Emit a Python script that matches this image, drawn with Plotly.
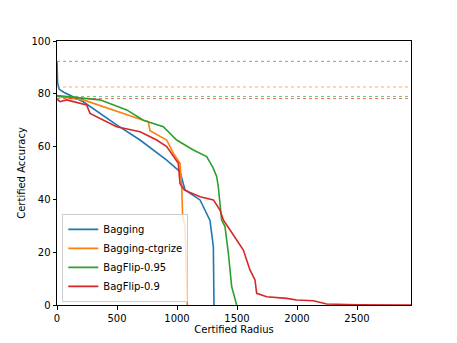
import plotly.graph_objects as go

# curves
bagging_r = [0, 5, 19, 60, 219, 497, 692, 914, 1025, 1067, 1192, 1275, 1303, 1308]
bagging_acc = [92, 84, 81.7, 80.5, 77, 68.2, 62.5, 54.9, 50.5, 43.6, 39.8, 32, 22, 0]

ctgrize_r = [0, 219, 719, 760, 775, 914, 969, 1025, 1040, 1047, 1060, 1067, 1086]
ctgrize_acc = [79, 77.7, 70, 69.5, 66, 62.5, 57.5, 53.7, 44, 33.4, 31, 29.6, 0]

bf95_r = [0, 358, 581, 719, 886, 997, 1136, 1247, 1300, 1331, 1344, 1358, 1372, 1400, 1428, 1456, 1497]
bf95_acc = [79.3, 77.7, 73.9, 70, 67.5, 62.5, 58.7, 56.2, 52, 48.6, 44.8, 37.2, 32.2, 29.7, 19.6, 6.9, 0]

bf90_r = [0, 25, 81, 247, 275, 414, 497, 692, 831, 914, 969, 1011, 1025, 1060, 1192, 1303, 1358, 1386,
          1442, 1553, 1608, 1650, 1664, 1747, 1914, 1997, 2136, 2247, 2500, 2950]
bf90_acc = [78, 77, 77.7, 75.8, 72.6, 69.4, 67.5, 65.6, 62.5, 60, 56.2, 53.7, 46, 43.6, 41, 39.8, 36, 32.2,
            28.4, 20.8, 13.3, 9.5, 4.4, 3.1, 2.5, 1.9, 1.6, 0.4, 0.1, 0]

names = ['Bagging', 'Bagging-ctgrize', 'BagFlip-0.95', 'BagFlip-0.9']
clean_acc = [92.3, 82.6, 79.0, 78.2]
colors = ['#1f77b4', '#ff7f0e', '#2ca02c', '#d62728']

fig = go.Figure()
series = [(bagging_r, bagging_acc), (ctgrize_r, ctgrize_acc), (bf95_r, bf95_acc), (bf90_r, bf90_acc)]
for (r, acc), name, c in zip(series, names, colors):
    fig.add_trace(go.Scatter(x=r, y=acc, mode='lines', name=name, line=dict(color=c, width=1.6)))

for y, c in zip(clean_acc, colors):
    fig.add_hline(y=y, line=dict(color=c, width=1, dash='dot'), opacity=0.65)

axis = dict(showgrid=False, zeroline=False, showline=True, linecolor='black', linewidth=1,
            mirror=True, ticks='outside', ticklen=3.5, tickcolor='black', automargin=False,
            tickfont=dict(size=10, color='black'))
fig.update_xaxes(range=[0, 2950], tickvals=[0, 500, 1000, 1500, 2000, 2500],
                 title=dict(text='Certified Radius', font=dict(size=10, color='black'), standoff=2), **axis)
fig.update_yaxes(range=[0, 100], tickvals=[0, 20, 40, 60, 80, 100],
                 title=dict(text='Certified Accuracy', font=dict(size=10, color='black'), standoff=3), **axis)

# page body has an 8px margin, so the figure is 8px smaller than the window
fig.update_layout(
    width=449, height=335,
    margin=dict(l=49, r=46, t=33, b=38),
    plot_bgcolor='white', paper_bgcolor='white',
    font=dict(family='DejaVu Sans', size=10, color='black'),
    legend=dict(x=0.015, y=0.012, xanchor='left', yanchor='bottom',
                bgcolor='rgba(255,255,255,0.8)', bordercolor='#cccccc', borderwidth=1,
                font=dict(size=10), itemwidth=30, tracegroupgap=0),
)

fig.write_html("out.html")
